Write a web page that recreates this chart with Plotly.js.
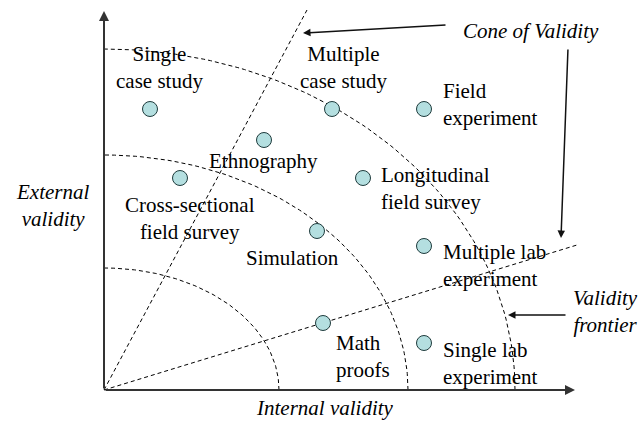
<!DOCTYPE html>
<html>
<head>
<meta charset="utf-8">
<script src="https://cdn.plot.ly/plotly-3.0.1.min.js"></script>
<style>html,body{margin:0;padding:0;background:#fff;}#chart{width:642px;height:421px;}</style>
</head>
<body>
<div id="chart"></div>
<script>
// ---- data ----
const methods = ['Single<br>case study', 'Multiple<br>case study', 'Field<br>experiment', 'Ethnography',
  'Cross-sectional<br>field survey', 'Longitudinal<br>field survey', 'Simulation',
  'Multiple lab<br>experiment', 'Math<br>proofs', 'Single lab<br>experiment'];
const internalValidity = [46, 228, 320, 160, 76, 259, 213, 320, 219, 320];
const externalValidity = [281, 281, 281, 250, 212, 212, 159, 144, 67, 47];
// validity frontiers (quarter ellipses), internal / external extents
const frontierInternal = [175, 304, 411];
const frontierExternal = [122, 235, 341];
// cone of validity edges (end points)
const coneInternal = [203, 473];
const coneExternal = [380, 145];
const xTitle = 'Internal validity';
const yTitle = 'External<br>validity';

// ---- label placement (layout) ----
const labelPlace = [
  {xa:'center', dx:9,  dy:42},
  {xa:'center', dx:11, dy:42},
  {xa:'left',   dx:17, dy:5},
  {xa:'center', dx:-1, dy:-21},
  {xa:'center', dx:10, dy:-40},
  {xa:'left',   dx:16, dy:-10},
  {xa:'center', dx:-25,dy:-27},
  {xa:'left',   dx:17, dy:-19},
  {xa:'left',   dx:11, dy:-33},
  {xa:'left',   dx:17, dy:-20}
];

const serif = 'Liberation Serif, Times New Roman, serif';
const traces = [];
const dashLine = {color:'#000', width:1, dash:'4px,3px'};
for (let k = 0; k < frontierInternal.length; k++) {
  const xs = [], ys = [];
  for (let i = 0; i <= 90; i++) {
    const t = i * Math.PI / 180;
    xs.push(frontierInternal[k] * Math.cos(t));
    ys.push(frontierExternal[k] * Math.sin(t));
  }
  traces.push({x:xs, y:ys, mode:'lines', line:dashLine, hoverinfo:'skip', showlegend:false});
}
for (let k = 0; k < coneInternal.length; k++) {
  traces.push({x:[0, coneInternal[k]], y:[0, coneExternal[k]], mode:'lines', line:dashLine, hoverinfo:'skip', showlegend:false});
}
traces.push({
  x: internalValidity, y: externalValidity, mode:'markers', showlegend:false,
  marker:{size:15, color:'#b4dfe0', line:{color:'#1e3b3c', width:1}},
  text: methods, hoverinfo:'text'
});

const annotations = [];
const arrowStyle = {showarrow:true, arrowhead:2, arrowsize:1, arrowwidth:1.5, arrowcolor:'#111', standoff:0, startstandoff:0, axref:'x', ayref:'y', text:''};
// axes
annotations.push(Object.assign({}, arrowStyle, {x:471, y:0, ax:0, ay:0, arrowcolor:'#333', arrowwidth:2}));
annotations.push(Object.assign({}, arrowStyle, {x:0, y:379, ax:0, ay:0, arrowcolor:'#333', arrowwidth:2}));
// pointer arrows
annotations.push(Object.assign({}, arrowStyle, {x:199, y:357, ax:343, ay:365}));
annotations.push(Object.assign({}, arrowStyle, {x:457, y:152, ax:464, ay:342}));
annotations.push(Object.assign({}, arrowStyle, {x:404, y:75, ax:463, ay:75}));

// method labels
for (let i = 0; i < methods.length; i++) {
  const p = labelPlace[i];
  annotations.push({x:internalValidity[i], y:externalValidity[i], text:methods[i], showarrow:false,
    xanchor:p.xa, yanchor:'middle', align:p.xa === 'left' ? 'left' : 'center',
    xshift:p.dx, yshift:p.dy, font:{family:serif, size:21, color:'#000'}});
}
// titles / callouts
const italic = {family:serif, size:21, color:'#000', style:'italic'};
annotations.push({x:427, y:359, text:'Cone of Validity', showarrow:false, xanchor:'center', yanchor:'middle', font:italic});
annotations.push({x:501, y:79, text:'Validity<br>frontier', showarrow:false, xanchor:'center', yanchor:'middle', align:'center', font:italic});
annotations.push({x:-52, y:185, text:yTitle, showarrow:false, xanchor:'center', yanchor:'middle', align:'center', font:italic});
annotations.push({x:221, y:-18, text:xTitle, showarrow:false, xanchor:'center', yanchor:'middle', font:italic});

const layout = {
  width:642, height:421,
  margin:{l:0, r:0, t:0, b:0},
  paper_bgcolor:'#fff', plot_bgcolor:'#fff',
  xaxis:{range:[-104, 538], visible:false, fixedrange:true},
  yaxis:{range:[-31, 390], visible:false, fixedrange:true},
  annotations: annotations,
  showlegend:false
};
Plotly.newPlot('chart', traces, layout, {staticPlot:true});
</script>
</body>
</html>
